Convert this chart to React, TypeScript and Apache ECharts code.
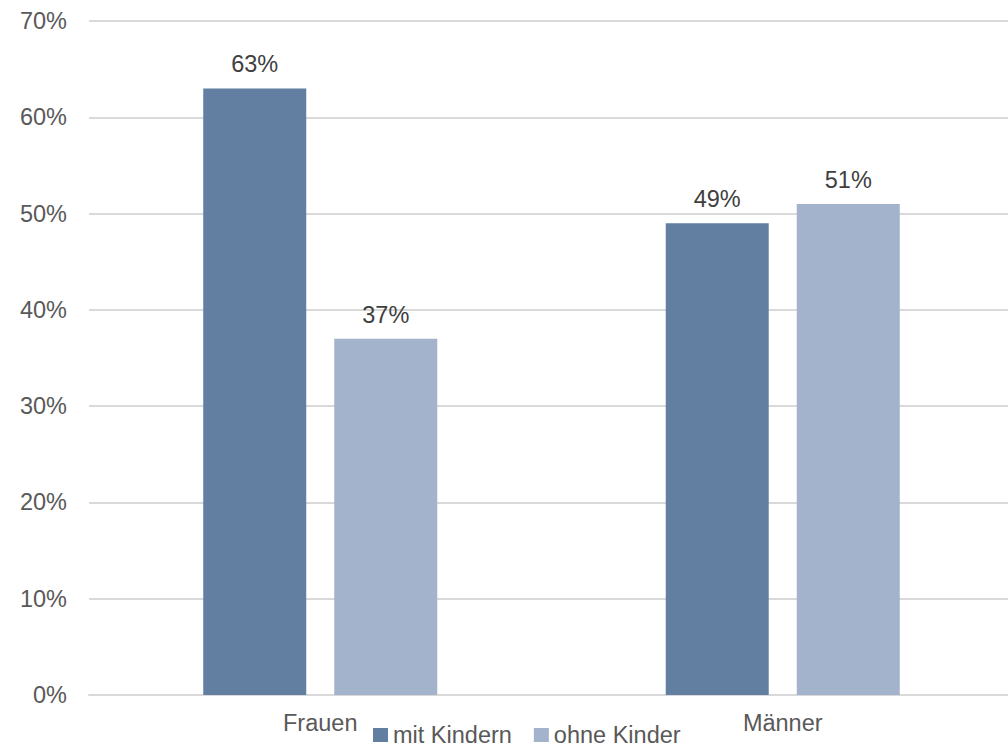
import React, { useEffect, useRef } from "react";
import * as echarts from "echarts";

const categories = ["Frauen", "Männer"];
const seriesNames = ["mit Kindern", "ohne Kinder"];
const mitKindern = [63, 49];
const ohneKinder = [37, 51];
const colors = ["#627ea0", "#a2b3cb"];

const FONT = "'Liberation Sans', Arial, sans-serif";
const FS = 23.5;

const pctLabel = (p: any) => `${p.value}%`;

export default function App() {
  const ref = useRef<HTMLDivElement>(null);

  useEffect(() => {
    document.body.style.margin = "0";
    const chart = echarts.init(ref.current!, null, { renderer: "svg" });
    chart.setOption({
      animation: false,
      textStyle: { fontFamily: FONT },
      grid: { left: 89, width: 925, top: 21, bottom: 53, outerBoundsMode: "none" },
      legend: {
        data: seriesNames,
        left: 368,
        top: 718,
        icon: "rect",
        itemWidth: 15,
        itemHeight: 14,
        itemGap: 22,
        textStyle: { fontFamily: FONT, fontSize: FS, color: "#595959" },
      },
      xAxis: {
        type: "category",
        data: categories,
        axisLine: { lineStyle: { color: "#d9d9d9", width: 2 } },
        axisTick: { show: false },
        axisLabel: { fontFamily: FONT, fontSize: FS, color: "#595959", margin: 16 },
      },
      yAxis: {
        type: "value",
        min: 0,
        max: 70,
        interval: 10,
        axisLabel: {
          fontFamily: FONT,
          fontSize: FS,
          color: "#595959",
          margin: 22,
          formatter: (v: number) => `${v}%`,
        },
        splitLine: { lineStyle: { color: "#d9d9d9", width: 2 } },
        axisLine: { show: false },
        axisTick: { show: false },
      },
      series: [
        {
          name: seriesNames[0],
          type: "bar",
          data: mitKindern,
          barWidth: 103,
          barGap: "27.2%",
          itemStyle: { color: colors[0] },
          label: {
            show: true,
            position: "top",
            distance: 12,
            fontFamily: FONT,
            fontSize: FS,
            color: "#404040",
            formatter: pctLabel,
          },
        },
        {
          name: seriesNames[1],
          type: "bar",
          data: ohneKinder,
          barWidth: 103,
          itemStyle: { color: colors[1] },
          label: {
            show: true,
            position: "top",
            distance: 12,
            fontFamily: FONT,
            fontSize: FS,
            color: "#404040",
            formatter: pctLabel,
          },
        },
      ],
    });
    return () => chart.dispose();
  }, []);

  return <div ref={ref} style={{ width: 1008, height: 748 }} />;
}
